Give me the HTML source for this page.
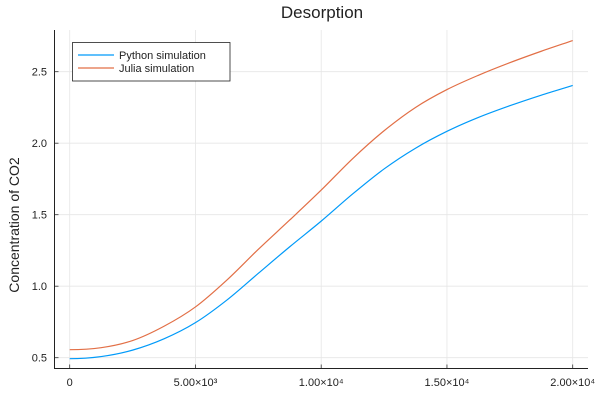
<!DOCTYPE html>
<html><head><meta charset="utf-8"><style>
html,body{margin:0;padding:0;background:#fff;}
svg text{font-family:"Liberation Sans","DejaVu Sans",sans-serif;fill:#222;}
</style></head><body>
<svg id="chart" width="600" height="400" xmlns="http://www.w3.org/2000/svg">
<rect width="600" height="400" fill="#fff"/>
<g id="grid"></g><g id="series"></g><g id="axes"></g>
</svg>
<script>
const xValues=[0,1250,2500,3750,5000,6250,7500,8750,10000,11250,12500,13750,15000,16250,17500,18750,20000];
const pythonValues=[0.493,0.508,0.553,0.632,0.745,0.903,1.09,1.276,1.455,1.645,1.82,1.965,2.083,2.18,2.262,2.336,2.404];
const juliaValues=[0.556,0.57,0.62,0.72,0.855,1.043,1.258,1.463,1.672,1.892,2.087,2.25,2.375,2.475,2.563,2.643,2.718];
const xTicks=[0,5000,10000,15000,20000];
const xTickLabels=["0","5.00×10³","1.00×10⁴","1.50×10⁴","2.00×10⁴"];
const yTicks=[0.5,1.0,1.5,2.0,2.5];
const yTickLabels=["0.5","1.0","1.5","2.0","2.5"];
const NS="http://www.w3.org/2000/svg";
const L=54.5,R=588,T=30,B=368.5;
function sx(v){return 69.7+v*(572.7-69.7)/20000;}
function sy(v){return 357.7-(v-0.5)*143;}
function mk(tag,attrs,parent){const e=document.createElementNS(NS,tag);for(const k in attrs)e.setAttribute(k,attrs[k]);parent.appendChild(e);return e;}
const grid=document.getElementById('grid'),axes=document.getElementById('axes'),ser=document.getElementById('series');
xTicks.forEach((t,i)=>{
 const g=mk('line',{x1:sx(t),x2:sx(t),y1:T,y2:B,stroke:'#e6e6e6','stroke-width':0.8},grid);
 
 
 const tk=mk('line',{x1:sx(t),x2:sx(t),y1:B,y2:B-4,stroke:'#333','stroke-width':0.8},axes);
 
 
 const tx=mk('text',{x:sx(t),y:386,'font-size':11,'text-anchor':'middle'},axes);
 tx.textContent=xTickLabels[i];
 
 
});
yTicks.forEach((t,i)=>{
 const g=mk('line',{x1:L,x2:R,y1:sy(t),y2:sy(t),stroke:'#e6e6e6','stroke-width':0.8},grid);
 
 
 const tk=mk('line',{x1:L,x2:L+4,y1:sy(t),y2:sy(t),stroke:'#333','stroke-width':0.8},axes);
 
 
 const tx=mk('text',{x:47,y:sy(t)+4,'font-size':11,'text-anchor':'end'},axes);
 tx.textContent=yTickLabels[i];
 
 
});
const ax=mk('path',{d:`M${L},${T} L${L},${B} L${R},${B}`,fill:'none',stroke:'#222','stroke-width':1},axes);


function curve(ys){
 const p=xValues.map((x,i)=>[sx(x),sy(ys[i])]);
 const n=p.length;
 const d=[],m=[];
 for(let i=0;i<n-1;i++)d.push((p[i+1][1]-p[i][1])/(p[i+1][0]-p[i][0]));
 m[0]=0;m[n-1]=d[n-2];
 for(let i=1;i<n-1;i++){
  const h0=p[i][0]-p[i-1][0],h1=p[i+1][0]-p[i][0];
  m[i]=(d[i-1]*d[i]<=0)?0:(d[i-1]*h1+d[i]*h0)/(h0+h1);
 }
 let s=`M${p[0][0]},${p[0][1]}`;
 for(let i=0;i<n-1;i++){
  const h=(p[i+1][0]-p[i][0])/3;
  s+=` C${p[i][0]+h},${p[i][1]+m[i]*h} ${p[i+1][0]-h},${p[i+1][1]-m[i+1]*h} ${p[i+1][0]},${p[i+1][1]}`;
 }
 return s;
}
const py=mk('path',{d:curve(pythonValues),fill:'none',stroke:'#009af9','stroke-width':1.2},ser);


const jl=mk('path',{d:curve(juliaValues),fill:'none',stroke:'#e26f46','stroke-width':1.2},ser);


</script>
<svg width="600" height="400" style="position:absolute;left:0;top:0" xmlns="http://www.w3.org/2000/svg">
<text x="322" y="18" font-size="17" text-anchor="middle">Desorption</text>
<text transform="translate(19,225) rotate(-90)" font-size="14" text-anchor="middle">Concentration of CO2</text>
<g>
<rect x="72.5" y="42.5" width="157.5" height="38.5" fill="#fff" stroke="#222" stroke-width="0.8"/>
<line x1="78" x2="114" y1="55" y2="55" stroke="#009af9" stroke-width="1.2"/>
<text x="119" y="59" font-size="11">Python simulation</text>
<line x1="78" x2="114" y1="68" y2="68" stroke="#e26f46" stroke-width="1.2"/>
<text x="119" y="72" font-size="11">Julia simulation</text>
</g>
</svg>
</body></html>
